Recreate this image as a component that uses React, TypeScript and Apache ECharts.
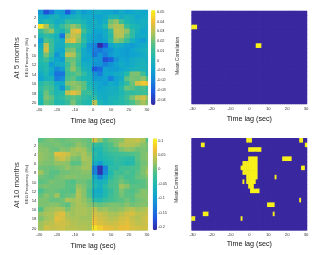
import React, { useEffect, useRef } from "react";
import * as echarts from "echarts";

const lags = Array.from({ length: 61 }, (_, i) => String(i - 30));
const freqs = Array.from({ length: 20 }, (_, i) => String(i + 1));
const parula = ["#3526A0", "#1F55E0", "#1782DC", "#0FA5CF", "#1FB8B0", "#4CC08C", "#A8C35A", "#F2BE35", "#F9F51A"];

// Mean correlation x 1000; each value spans 3 one-second lag bins, row = frequency
const fiveMonths = [
  [-15,-35,-25,-10,-12,-32,-15,-5,-12,-8,-5,-5,-8,-8,-12,-5,-10,-8,-5,-8,-8],
  [-5,-8,-2,0,-8,-5,-2,0,-5,-5,-8,-10,-5,0,2,-5,0,-2,-8,-5,-5],
  [-2,5,2,-5,-2,8,5,5,0,-5,-3,-8,-3,20,25,12,2,-2,-5,-3,-2],
  [48,30,12,0,10,18,25,20,5,-3,-5,-5,5,25,30,28,10,3,0,-3,-5],
  [10,20,25,5,0,12,35,38,12,0,-8,-8,-5,8,32,30,25,8,-2,-8,-5],
  [2,8,5,-2,-25,25,33,28,5,-5,-10,-12,-5,5,30,30,18,8,-5,-5,-5],
  [-12,15,10,0,-5,32,38,25,8,-5,-10,-12,-8,8,25,20,10,-2,-8,-12,-5],
  [-5,32,12,-3,-3,12,15,12,2,-15,-20,-45,-32,-8,-3,-5,-10,-12,-8,-5,-3],
  [0,35,12,-5,-8,20,22,10,-5,-12,-22,-25,-18,-15,-8,-10,-12,-8,-5,-3,0],
  [2,22,8,-15,-3,32,30,15,-5,-8,-25,-15,-22,-12,-8,-10,-12,-10,-8,-5,-2],
  [5,12,0,-8,-12,18,20,12,-8,-8,-12,-15,-35,-30,-15,-8,-10,-5,-3,-2,-5],
  [2,5,-12,-5,-3,12,22,10,-3,-5,-15,-15,-22,-15,-10,-5,-8,-5,-2,0,-3],
  [0,5,-5,-18,-12,15,25,15,0,-3,-32,-28,-10,-12,-12,-8,-5,-2,0,0,-2],
  [-5,2,-8,-25,-25,12,15,18,8,0,-15,-22,-8,-8,-5,-3,5,22,22,12,-3],
  [-8,-2,0,-22,-18,15,18,8,2,0,-12,-12,-10,-22,-10,-5,18,22,20,25,15],
  [5,10,8,-5,-5,22,25,22,18,2,-5,-8,-12,-5,-8,0,8,20,35,42,38],
  [8,15,12,0,-15,12,22,25,18,5,-3,-8,-5,-3,-3,5,20,18,12,15,8],
  [5,20,10,2,5,32,38,32,10,12,0,-5,-5,-3,-2,2,8,8,10,12,10],
  [3,22,18,5,8,15,18,15,8,5,8,-3,-5,0,0,5,12,22,30,35,25],
  [2,18,15,3,5,10,22,12,5,3,30,2,-3,0,3,5,8,15,22,28,22],
];

const tenMonths = [
  [-5,5,10,5,0,5,8,10,5,0,50,20,-10,5,10,15,40,40,45,30,-10],
  [10,5,5,10,5,0,5,20,10,0,-30,-40,-20,-10,10,30,35,35,25,15,10],
  [15,15,5,0,15,10,25,30,25,5,-50,-50,-30,-15,-10,10,20,15,5,10,5],
  [20,15,10,60,55,45,25,20,30,15,-40,-60,-40,-30,-25,-20,-15,-10,-5,10,15],
  [20,15,10,35,50,30,10,5,30,25,-50,-60,-50,-40,-30,-35,-40,-40,-5,10,15],
  [15,10,10,20,20,15,-5,-5,20,25,-70,-100,-60,-50,-35,-40,-50,-45,-10,5,10],
  [5,5,0,5,10,20,10,15,25,25,-130,-200,-130,-40,-40,-20,-20,-15,-10,10,20],
  [25,5,-5,-5,5,5,10,10,15,15,-130,-200,-120,-50,-20,-25,-10,-20,-5,10,30],
  [5,0,-5,5,10,15,15,10,10,10,-80,-130,-80,-40,-15,-5,-20,-15,0,5,15],
  [-5,0,10,5,5,-5,-10,5,5,-5,-60,-70,-60,-20,-10,5,-5,-15,-10,-5,5],
  [5,10,5,5,5,-5,-5,20,10,-5,-50,-70,-40,-15,-10,25,15,-5,-5,-5,5],
  [-15,0,5,0,-5,-5,-10,30,15,-15,-75,-80,-50,-30,-10,10,-5,-10,0,15,10],
  [0,15,5,25,-5,0,5,35,15,-10,-70,-70,-50,-25,-10,5,-5,-5,10,15,15],
  [10,10,0,0,5,30,25,30,20,5,-40,-45,-30,-20,-10,-5,5,-5,5,10,15],
  [10,10,15,15,5,-5,20,30,25,15,5,0,5,10,10,5,15,5,10,15,10],
  [-10,20,25,30,30,10,25,30,30,25,40,20,25,15,15,20,30,40,25,30,40],
  [20,30,30,50,60,30,25,30,30,25,50,45,40,30,30,40,50,55,40,40,45],
  [10,25,30,60,55,35,30,30,25,25,60,50,45,35,40,50,55,45,35,45,55],
  [25,35,40,50,50,45,35,30,30,30,70,55,50,45,50,55,60,50,40,45,50],
  [25,50,45,45,50,40,40,35,35,30,95,80,65,60,55,65,65,55,50,50,50],
];

// Significant runs: [row, first lag bin, last lag bin]
const sigFive = [[3,0,2],[7,34,36]];
const sigTen = [
  [0,29,31],[0,57,58],[1,5,6],[1,60,60],[2,30,36],[4,48,52],[4,30,34],[5,27,34],[6,26,34],[6,58,59],
  [7,27,34],[8,29,34],[8,44,44],[9,29,33],[9,27,27],[10,30,32],[11,31,35],[13,57,57],[14,40,43],
  [16,43,43],[16,6,8],[17,0,1],[17,26,26],
];

const fiveTicks = [-0.04,-0.03,-0.02,-0.01,0,0.01,0.02,0.03,0.04,0.05];
const tenTicks = [-0.2,-0.15,-0.1,-0.05,0,0.05,0.1];

const ink = "#333";
const coarseToCells = (rows: number[][]) => {
  const out: number[][] = [];
  rows.forEach((row, r) => lags.forEach((_, c) => out.push([c, r, row[Math.floor(c / 3)] / 1000])));
  return out;
};
const maskToCells = (runs: number[][]) => {
  const out: number[][] = [];
  freqs.forEach((_, r) => lags.forEach((_, c) => {
    out.push([c, r, runs.some((s) => s[0] === r && c >= s[1] && c <= s[2]) ? 1 : 0]);
  }));
  return out;
};
const fmt = (v: number) => String(Math.round(v * 1000) / 1000);

export default function App() {
  const ref = useRef<HTMLDivElement>(null);
  useEffect(() => {
    const chart = echarts.init(ref.current!, undefined, { renderer: "svg" });
    const xAx = (gridIndex: number, margin: number, gap: number) => ({
      type: "category", gridIndex, data: lags, boundaryGap: true,
      name: "Time lag (sec)", nameLocation: "middle", nameGap: gap, nameMoveOverlap: false,
      nameTextStyle: { fontFamily: "Liberation Sans", fontSize: 7.2, color: "#111" },
      axisLine: { show: false }, axisTick: { show: false }, splitLine: { show: false },
      axisLabel: { interval: (i: number) => i % 10 === 0, fontSize: 4.2, margin, color: ink, fontFamily: "Liberation Sans" },
    });
    const yAx = (gridIndex: number, labelled: boolean) => ({
      type: "category", gridIndex, data: freqs, inverse: true, boundaryGap: true,
      name: labelled ? "EEG Frequency (Hz)" : "", nameLocation: "middle", nameGap: 10, nameMoveOverlap: false,
      nameTextStyle: { fontFamily: "Liberation Sans", fontSize: 4.2, color: ink },
      axisLine: { show: false }, axisTick: { show: false }, splitLine: { show: false },
      axisLabel: { show: labelled, interval: (i: number) => i % 2 === 1, fontSize: 4.2, margin: 2, color: ink, fontFamily: "Liberation Sans" },
    });
    const barX = (gridIndex: number) => ({ type: "value", gridIndex, show: false });
    const barY = (gridIndex: number, ticks: number[], step: number, gap: number) => ({
      type: "value", gridIndex, position: "right", min: ticks[0], max: ticks[ticks.length - 1], interval: step,
      name: "Mean Correlation", nameLocation: "middle", nameGap: gap, nameRotate: 90, nameMoveOverlap: false,
      nameTextStyle: { fontFamily: "Liberation Sans", fontSize: 5, color: ink },
      axisLine: { show: false }, axisTick: { show: false }, splitLine: { show: false },
      axisLabel: { fontSize: 3.8, margin: 1.5, color: ink, fontFamily: "Liberation Sans", formatter: fmt },
    });
    const zeroLine = {
      silent: true, symbol: "none", animation: false,
      label: { show: false },
      lineStyle: { type: "dotted", width: 1, color: "#4a4a5a", opacity: 0.6 },
      data: [{ xAxis: "0" }],
    };
    const heat = (i: number, data: number[][], mark: boolean) => ({
      type: "heatmap", xAxisIndex: i, yAxisIndex: i, data, silent: true, progressive: 0,
      itemStyle: { borderWidth: 0 }, emphasis: { disabled: true },
      ...(mark ? { markLine: zeroLine } : {}),
    });
    const panel = { show: true, borderWidth: 0 };
    chart.setOption({
      animation: false,
      backgroundColor: "#fff",
      tooltip: { show: false },
      grid: [
        { ...panel, backgroundColor: "#12AEC0", left: 38.3, top: 10, width: 109.5, height: 95 },
        { ...panel, backgroundColor: "#4CC08C", left: 38.3, top: 138.3, width: 109.5, height: 92 },
        { ...panel, backgroundColor: "#3A28A0", left: 191.7, top: 11, width: 115.3, height: 93 },
        { ...panel, backgroundColor: "#3A28A0", left: 191.7, top: 138.3, width: 115.3, height: 92 },
        { left: 154.5, top: 12, width: 1, height: 87.7 },
        { left: 155.7, top: 140.7, width: 1, height: 86.3 },
      ],
      xAxis: [xAx(0, 2, 11.5), xAx(1, 2, 11.5), xAx(2, 2, 10.5), xAx(3, 2, 9.5), barX(4), barX(5)],
      yAxis: [yAx(0, true), yAx(1, true), yAx(2, false), yAx(3, false), barY(4, fiveTicks, 0.01, 18.5), barY(5, tenTicks, 0.05, 16.5)],
      visualMap: [
        { type: "continuous", seriesIndex: 0, min: -0.0455, max: 0.052, inRange: { color: parula }, calculable: false, hoverLink: false,
          left: 151, top: 10, itemWidth: 4.5, itemHeight: 95, padding: 0, text: ["", ""], textGap: 0 },
        { type: "continuous", seriesIndex: 1, min: -0.21, max: 0.108, inRange: { color: parula }, calculable: false, hoverLink: false,
          left: 152.7, top: 138.3, itemWidth: 4.5, itemHeight: 92, padding: 0, text: ["", ""], textGap: 0 },
        { type: "continuous", seriesIndex: [2, 3], min: 0, max: 1, show: false, inRange: { color: ["#3A28A0", "#F9F21A"] } },
      ],
      series: [
        heat(0, coarseToCells(fiveMonths), true),
        heat(1, coarseToCells(tenMonths), true),
        heat(2, maskToCells(sigFive), false),
        heat(3, maskToCells(sigTen), false),
      ],
      graphic: [
        { type: "text", x: 16, y: 58, rotation: Math.PI / 2, style: { text: "At 5 months", font: "7.8px 'Liberation Sans'", fill: "#333", align: "center", verticalAlign: "middle" } },
        { type: "text", x: 16, y: 185, rotation: Math.PI / 2, style: { text: "At 10 months", font: "7.8px 'Liberation Sans'", fill: "#333", align: "center", verticalAlign: "middle" } },
      ],
    });
    return () => chart.dispose();
  }, []);
  return (
    <div
      ref={ref}
      style={{ position: "absolute", left: 0, top: 0, width: 321, height: 255, background: "#fff", filter: "blur(0.55px)" }}
    />
  );
}
